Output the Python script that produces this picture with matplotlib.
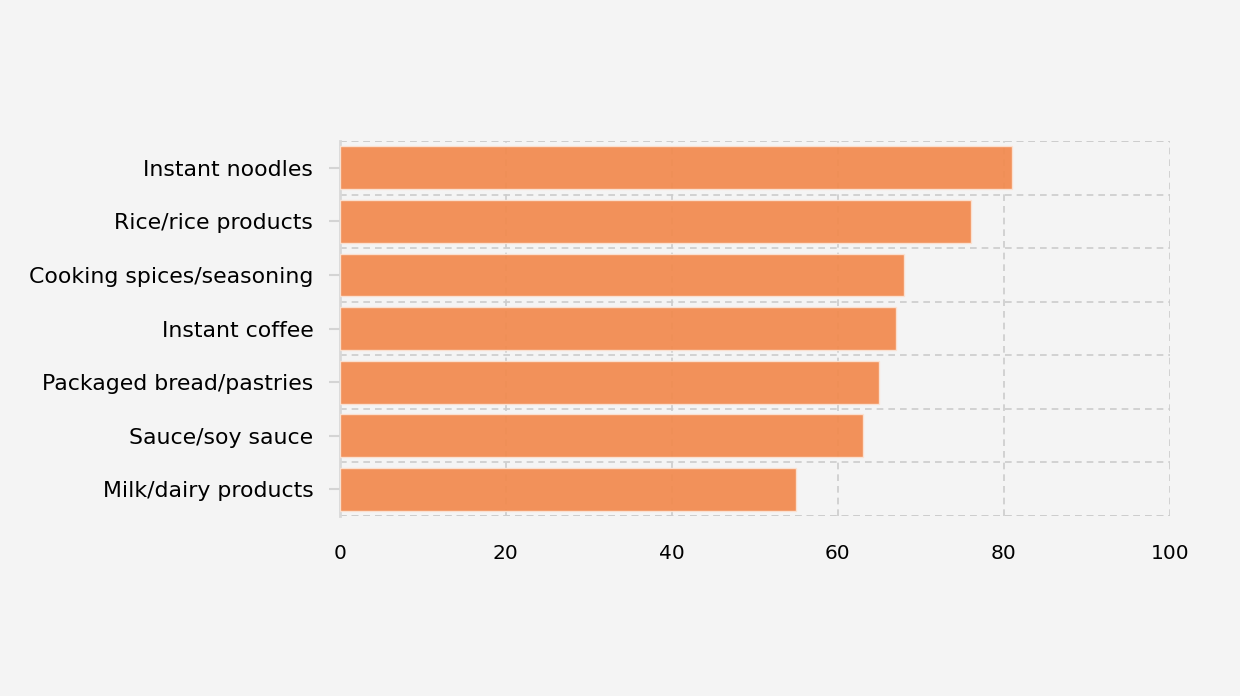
import matplotlib.pyplot as plt
from matplotlib.ticker import MultipleLocator

categories = ["Milk/dairy products", "Sauce/soy sauce", "Packaged bread/pastries",
              "Instant coffee", "Cooking spices/seasoning", "Rice/rice products",
              "Instant noodles"]
values = [55, 63, 65, 67, 68, 76, 81]
xticks = [0, 20, 40, 60, 80, 100]

bg = "#f4f4f4"
fig = plt.figure(figsize=(12.4, 6.96), dpi=100, facecolor=bg)
ax = fig.add_axes([0.274, 0.2586, 0.6695, 0.5388])
ax.set_facecolor(bg)

ypos = list(range(len(categories)))
ax.barh(ypos, values, height=0.8, color="#f28a4e", alpha=0.93,
        edgecolor="#fbe3d4", linewidth=1, zorder=3)

ax.set_xlim(0, 100)
ax.set_ylim(-0.5, len(categories) - 0.5)
ax.set_xticks(xticks)
ax.set_xticklabels([str(t) for t in xticks])
ax.set_yticks(ypos)
ax.set_yticklabels(categories)
ax.yaxis.set_minor_locator(MultipleLocator(1, offset=0.5))

dash = (0, (4, 3))
ax.grid(axis="x", which="major", color="#cccccc", linestyle=dash, linewidth=1.2, zorder=1)
ax.grid(axis="y", which="minor", color="#cccccc", linestyle=dash, linewidth=1.2, zorder=1)
ax.tick_params(axis="y", which="minor", length=0)
ax.tick_params(axis="x", length=0, pad=20, labelsize=14.5, colors="black")
ax.tick_params(axis="y", which="major", length=8, width=1.5, color="#d4d4d4", pad=11, labelsize=15.8)

for side in ["top", "right", "bottom"]:
    ax.spines[side].set_visible(False)
ax.spines["left"].set_color("#d8d8d8")
ax.spines["left"].set_linewidth(2)
ax.axhline(len(categories) - 0.5, color="#cccccc", linestyle=dash, linewidth=1.2, zorder=1)
ax.axhline(-0.5, color="#cccccc", linestyle=dash, linewidth=1.2, zorder=1)

fig.savefig("out.png", dpi=100, facecolor=bg)
